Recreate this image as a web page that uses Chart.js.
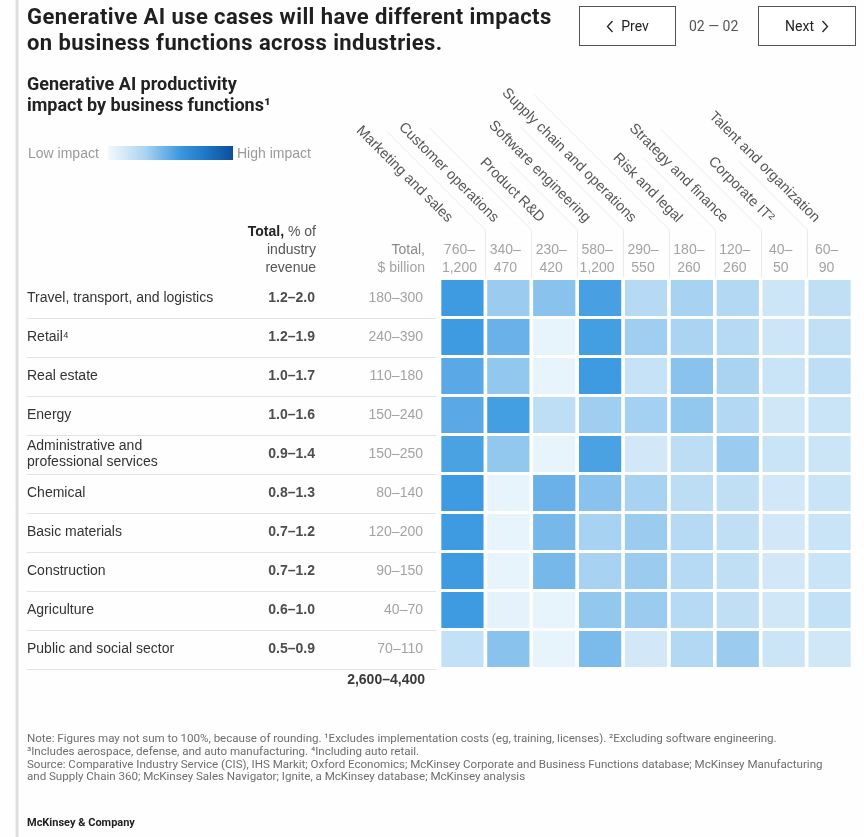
<!DOCTYPE html>
<html>
<head>
<meta charset="utf-8">
<title>Generative AI productivity impact by business functions</title>
<script src="https://cdn.jsdelivr.net/npm/chart.js@4.4.1/dist/chart.umd.min.js"></script>
<style>
  body { margin: 0; background: #fff; font-family: "Liberation Sans", Arial, sans-serif; color: #222; }
  #page { position: relative; width: 864px; height: 837px; overflow: hidden; background: #fefefe; }
  #edge { position: absolute; left: 15px; top: 0; width: 4px; height: 837px;
          background: linear-gradient(to right, rgba(0,0,0,0.02), rgba(0,0,0,0.16), rgba(0,0,0,0.04)); }
  #impactChart { position: absolute; left: 0; top: 0; }
  h1 { position: absolute; left: 27px; top: 4px; margin: 0; font: bold 22px/26px Roboto, sans-serif;
       color: #1f1f1f; letter-spacing: 0.4px; }
  h2 { position: absolute; left: 27px; top: 73px; margin: 0; font: bold 18px/21px Roboto, sans-serif; color: #222; }
  .btn { position: absolute; top: 6px; height: 38px; border: 1px solid #555; font: 14px/38px Roboto, sans-serif;
         color: #222; text-align: center; background: #fff; }
  .btn svg { vertical-align: -2px; }
  #pager { position: absolute; left: 689px; top: 6px; font: 14px/40px Roboto, sans-serif; color: #555; }
  .legend { position: absolute; top: 144px; font: 14px/18px "Liberation Sans", sans-serif; color: #9a9a9a; }
  #ramp { position: absolute; left: 108px; top: 146px; width: 125px; height: 14px;
          background: linear-gradient(to right, #f4f9fd 0%, #a9d3f1 30%, #3b97de 58%, #1c73c4 80%, #0d4d97 100%); }
  #notes { position: absolute; left: 27px; top: 732px; font: 11.6px/12.8px Roboto, sans-serif; color: #6e6e6e;
           white-space: nowrap; letter-spacing: -0.03px; }
  #brand { position: absolute; left: 27px; top: 816px; font: bold 11px/14px Roboto, sans-serif; color: #222; }
</style>
</head>
<body>
<div id="page">
  <div id="edge"></div>
  <canvas id="impactChart" width="864" height="837"></canvas>
  <h1>Generative AI use cases will have different impacts<br>on business functions across industries.</h1>
  <div class="btn" style="left:579px; width:95px;">
    <svg width="8" height="13" viewBox="0 0 8 13"><polyline points="6.5,1 1.5,6.5 6.5,12" fill="none" stroke="#222" stroke-width="1.3"/></svg>&nbsp;&nbsp;Prev
  </div>
  <div id="pager">02 — 02</div>
  <div class="btn" style="left:758px; width:96px;">
    Next&nbsp;&nbsp;<svg width="8" height="13" viewBox="0 0 8 13"><polyline points="1.5,1 6.5,6.5 1.5,12" fill="none" stroke="#222" stroke-width="1.3"/></svg>
  </div>
  <h2>Generative AI productivity<br>impact by business functions¹</h2>
  <div class="legend" style="left:28px;">Low impact</div>
  <div id="ramp"></div>
  <div class="legend" style="left:237px;">High impact</div>
  <div id="notes">
    Note: Figures may not sum to 100%, because of rounding. ¹Excludes implementation costs (eg, training, licenses). ²Excluding software engineering.<br>
    ³Includes aerospace, defense, and auto manufacturing. ⁴Including auto retail.<br>
    Source: Comparative Industry Service (CIS), IHS Markit; Oxford Economics; McKinsey Corporate and Business Functions database; McKinsey Manufacturing<br>
    and Supply Chain 360; McKinsey Sales Navigator; Ignite, a McKinsey database; McKinsey analysis
  </div>
  <div id="brand">McKinsey &amp; Company</div>
</div>

<script>
// Rows of the table
const industries = [
  'Travel, transport, and logistics',
  'Retail⁴',
  'Real estate',
  'Energy',
  ['Administrative and', 'professional services'],
  'Chemical',
  'Basic materials',
  'Construction',
  'Agriculture',
  'Public and social sector'
];
const revenueShare = ['1.2–2.0', '1.2–1.9', '1.0–1.7', '1.0–1.6', '0.9–1.4', '0.8–1.3', '0.7–1.2', '0.7–1.2', '0.6–1.0', '0.5–0.9'];
const valueBillion = ['180–300', '240–390', '110–180', '150–240', '150–250', '80–140', '120–200', '90–150', '40–70', '70–110'];
const grandTotal = '2,600–4,400';

// Columns of the table
const functionNames = [
  'Marketing and sales', 'Customer operations', 'Product R&D', 'Software engineering',
  'Supply chain and operations', 'Risk and legal', 'Strategy and finance', 'Corporate IT²', 'Talent and organization'
];
const functionTotals = [
  ['760–', '1,200'], ['340–', '470'], ['230–', '420'], ['580–', '1,200'], ['290–', '550'],
  ['180–', '260'], ['120–', '260'], ['40–', '50'], ['60–', '90']
];

// Impact score (0 = low, 100 = high) per function, one value per industry row
const marketingSales   = [95, 95, 80, 80, 88, 95, 95, 95, 95, 23];
const customerOps      = [45, 72, 50, 92, 50, 3, 3, 3, 5, 55];
const productRD        = [55, 3, 3, 26, 3, 72, 65, 65, 3, 3];
const softwareEng      = [90, 92, 95, 42, 88, 55, 38, 38, 50, 62];
const supplyChain      = [30, 42, 22, 40, 15, 38, 45, 45, 45, 15];
const riskLegal        = [38, 36, 55, 50, 27, 27, 30, 30, 30, 32];
const strategyFinance  = [32, 30, 37, 32, 45, 25, 25, 25, 25, 45];
const corporateIT      = [18, 18, 20, 16, 20, 15, 15, 15, 16, 19];
const talentOrg        = [25, 24, 26, 20, 19, 20, 20, 20, 23, 17];

const impactColumns = [marketingSales, customerOps, productRD, softwareEng, supplyChain,
                       riskLegal, strategyFinance, corporateIT, talentOrg];

const LOW = [238, 247, 252];
const HIGH = [53, 150, 224];
const CELL_INSET = 0.04; // white gap between neighbouring cells

function impactColor(v) {
  const t = v / 100;
  const c = LOW.map((lo, i) => Math.round(lo + (HIGH[i] - lo) * t));
  return `rgb(${c[0]}, ${c[1]}, ${c[2]})`;
}

const FONT = '"Liberation Sans", Arial, sans-serif';

function line(ctx, x1, y1, x2, y2) {
  ctx.beginPath();
  ctx.moveTo(x1, y1);
  ctx.lineTo(x2, y2);
  ctx.stroke();
}

// Draws the text columns, rule lines and the slanted function headers around the grid
const tableText = {
  id: 'tableText',
  afterDraw(chart) {
    const { ctx, scales: { x, y } } = chart;
    const rowStep = y.getPixelForValue(1) - y.getPixelForValue(0);
    const headY = 232;
    ctx.save();

    // row rules
    ctx.strokeStyle = '#e4e4e4';
    ctx.lineWidth = 1;
    industries.forEach((_, i) => {
      const yy = Math.round(y.getPixelForValue(i) + rowStep / 2) + 0.5;
      line(ctx, 27, yy, 436, yy);
    });

    // row labels and totals
    ctx.textBaseline = 'middle';
    industries.forEach((name, i) => {
      const cy = y.getPixelForValue(i);
      const parts = [].concat(name);
      ctx.font = '14px ' + FONT;
      ctx.fillStyle = '#333';
      ctx.textAlign = 'left';
      parts.forEach((t, k) => ctx.fillText(t, 27, cy + (k - (parts.length - 1) / 2) * 16));

      ctx.textAlign = 'right';
      ctx.font = 'bold 14px ' + FONT;
      ctx.fillStyle = '#4d4d4d';
      ctx.fillText(revenueShare[i], 315, cy);

      ctx.font = '14px ' + FONT;
      ctx.fillStyle = '#a3a3a3';
      ctx.fillText(valueBillion[i], 423, cy);
    });

    ctx.font = 'bold 14px ' + FONT;
    ctx.fillStyle = '#3a3a3a';
    ctx.fillText(grandTotal, 425, y.getPixelForValue(industries.length - 1) + rowStep / 2 + 12);

    // "Total, % of industry revenue" header
    ctx.font = '14px ' + FONT;
    const ofW = ctx.measureText(' % of').width;
    ctx.fillStyle = '#555';
    ctx.fillText(' % of', 316, headY);
    ctx.font = 'bold 14px ' + FONT;
    ctx.fillStyle = '#222';
    ctx.fillText('Total,', 316 - ofW, headY);
    ctx.font = '14px ' + FONT;
    ctx.fillStyle = '#555';
    ctx.fillText('industry', 316, headY + 18);
    ctx.fillText('revenue', 316, headY + 36);

    // "Total, $ billion" header
    ctx.fillStyle = '#8a8a8a';
    ctx.fillText('Total,', 425, headY + 18);
    ctx.fillStyle = '#a3a3a3';
    ctx.fillText('$ billion', 425, headY + 36);

    // column totals
    ctx.textAlign = 'center';
    functionTotals.forEach((pair, c) => {
      const cx = x.getPixelForValue(c + 0.5) - 3;
      ctx.fillText(pair[0], cx, headY + 18);
      ctx.fillText(pair[1], cx, headY + 36);
    });

    // separators between column headers
    ctx.strokeStyle = '#ebebeb';
    ctx.font = '14px ' + FONT;
    for (let c = 1; c < functionNames.length; c++) {
      const bx = Math.round(x.getPixelForValue(c)) + 0.5;
      const len = ctx.measureText(functionNames[c - 1]).width * Math.SQRT1_2 + 10;
      line(ctx, bx, headY + 45, bx, headY - 2);
      line(ctx, bx, headY - 2, bx - len, headY - 2 - len);
    }

    // slanted function names
    ctx.fillStyle = '#555';
    ctx.font = '14.5px ' + FONT;
    ctx.textAlign = 'right';
    ctx.textBaseline = 'alphabetic';
    functionNames.forEach((name, c) => {
      ctx.save();
      ctx.translate(x.getPixelForValue(c + 0.5) - 15, headY - 9);
      ctx.rotate(Math.PI / 4);
      ctx.fillText(name, 0, 0);
      ctx.restore();
    });

    ctx.restore();
  }
};

new Chart(document.getElementById('impactChart'), {
  type: 'bar',
  data: {
    labels: industries.map(n => [].concat(n).join(' ')),
    datasets: impactColumns.map((col, c) => ({
      label: functionNames[c],
      data: col.map(() => [c + CELL_INSET, c + 1 - CELL_INSET]),
      backgroundColor: col.map(impactColor),
      borderWidth: 0
    }))
  },
  options: {
    responsive: false,
    animation: false,
    indexAxis: 'y',
    layout: { padding: { left: 439.5, right: 11.5, top: 278.5, bottom: 168.5 } },
    datasets: { bar: { grouped: false, barPercentage: 0.92, categoryPercentage: 1 } },
    scales: {
      x: { type: 'linear', min: 0, max: 9, display: false },
      y: { display: false }
    },
    plugins: { legend: { display: false }, tooltip: { enabled: false } }
  },
  plugins: [tableText]
});
</script>
</body>
</html>
